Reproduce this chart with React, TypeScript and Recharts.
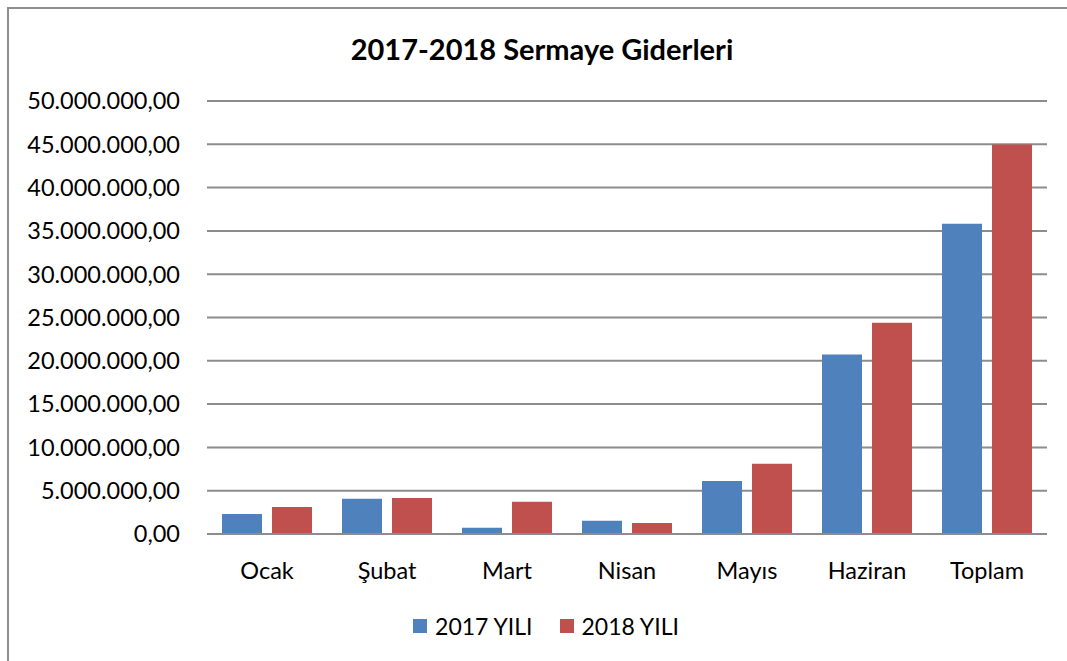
import { Bar, BarChart, CartesianGrid, Legend, XAxis, YAxis } from "recharts"

const months = ["Ocak", "Şubat", "Mart", "Nisan", "Mayıs", "Haziran", "Toplam"]
const values2017 = [2310000, 4080000, 730000, 1540000, 6120000, 20740000, 35830000]
const values2018 = [3120000, 4160000, 3730000, 1270000, 8120000, 24400000, 44990000]
const yTicks = [0, 5000000, 10000000, 15000000, 20000000, 25000000, 30000000, 35000000, 40000000, 45000000, 50000000]
const seriesNames = ["2017 YILI", "2018 YILI"]
const seriesColors = ["#4f81bd", "#c0504d"]

const data = months.map((m, i) => ({ month: m, y2017: values2017[i], y2018: values2018[i] }))

const font = "Lato, 'Open Sans', sans-serif"

function fmt(v: number) {
  const s = Math.round(v).toString().replace(/\B(?=(\d{3})+(?!\d))/g, ".")
  return s + ",00"
}

function LegendBox() {
  return (
    <div style={{ display: "flex", justifyContent: "center", alignItems: "center", height: 30, fontSize: 23, fontFamily: font, color: "#000" }}>
      {seriesNames.map((n, i) => (
        <div key={n} style={{ display: "flex", alignItems: "center", marginLeft: i ? 27 : 0 }}>
          <span style={{ width: 14, height: 14, background: seriesColors[i], marginRight: 8, display: "inline-block" }} />
          <span>{n}</span>
        </div>
      ))}
    </div>
  )
}

export default function App() {
  return (
    <div style={{ position: "absolute", left: 7, top: 7, width: 1100, height: 700, border: "2px solid #8f8f8f", background: "#fff", fontFamily: font }}>
      <div style={{ position: "absolute", left: 0, width: 1066, top: 22, textAlign: "center", fontSize: 29, fontWeight: 700, color: "#000" }}>
        2017-2018 Sermaye Giderleri
      </div>
      <BarChart
        width={1060}
        height={660}
        data={data}
        margin={{ top: 92, right: 22, bottom: 65, left: 0 }}
        barSize={40}
        barGap={10}
      >
        <CartesianGrid vertical={false} stroke="#8c8c8c" strokeWidth={2} />
        <XAxis
          dataKey="month"
          height={40}
          tickLine={false}
          axisLine={{ stroke: "#8c8c8c", strokeWidth: 2 }}
          tick={{ fill: "#000", fontSize: 23.5, fontFamily: font }}
          tickMargin={22}
        />
        <YAxis
          width={198}
          domain={[0, 50000000]}
          ticks={yTicks}
          tickFormatter={fmt}
          tickLine={false}
          axisLine={false}
          tick={{ fill: "#000", fontSize: 23.5, fontFamily: font }}
          tickMargin={21}
        />
        <Legend content={() => <LegendBox />} height={30} wrapperStyle={{ top: 602, left: 18 }} />
        <Bar dataKey="y2017" name={seriesNames[0]} fill={seriesColors[0]} isAnimationActive={false} />
        <Bar dataKey="y2018" name={seriesNames[1]} fill={seriesColors[1]} isAnimationActive={false} />
      </BarChart>
    </div>
  )
}
